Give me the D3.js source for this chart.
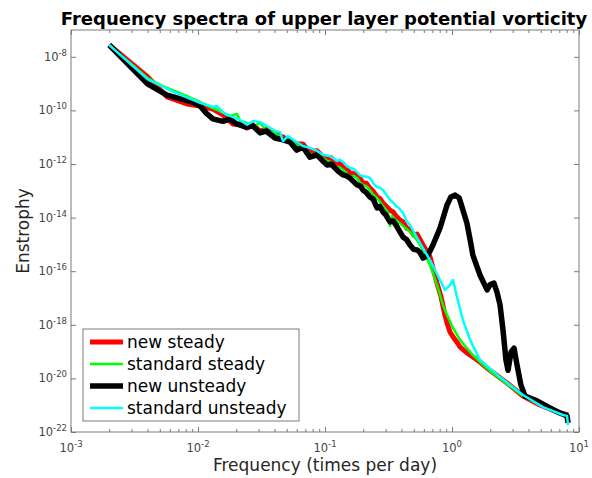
<!DOCTYPE html>
<html>
<head>
<meta charset="utf-8">
<script src="https://cdn.jsdelivr.net/npm/d3@7"></script>
<style>
body { margin: 0; background: #fff; }
text { font-family: "DejaVu Sans", sans-serif; }
</style>
</head>
<body>
<svg id="chart" width="592" height="478"></svg>
<script>
// tick values
var freqTicks = [1e-3, 1e-2, 1e-1, 1, 10];
var enstTicks = [1e-22, 1e-20, 1e-18, 1e-16, 1e-14, 1e-12, 1e-10, 1e-8];

var seriesNames = ["new steady", "standard steady", "new unsteady", "standard unsteady"];

// [frequency (per day), enstrophy]
var newSteady = [
  [2e-3, 2.75e-8], [4e-3, 1.8e-9], [5.7e-3, 3.2e-10], [8.2e-3, 1.74e-10], [1.04e-2, 1.45e-10],
  [1.31e-2, 1.12e-10], [1.57e-2, 6.8e-11], [1.89e-2, 3.1e-11], [2.14e-2, 2.9e-11], [2.43e-2, 2.2e-11],
  [2.71e-2, 2.9e-11], [3.08e-2, 1.7e-11], [3.49e-2, 2.0e-11], [4.04e-2, 1.32e-11], [4.67e-2, 1.02e-11],
  [5.3e-2, 7.2e-12], [6.0e-2, 5.6e-12], [6.7e-2, 5.6e-12], [7.6e-2, 2.8e-12], [8.65e-2, 3.1e-12],
  [0.096, 1.9e-12], [0.104, 1.55e-12], [0.112, 1.7e-12], [0.12, 1.1e-12], [0.13, 1.05e-12],
  [0.139, 7.8e-13], [0.148, 7.0e-13], [0.157, 4.6e-13], [0.168, 4.4e-13], [0.179, 3.5e-13],
  [0.189, 2.9e-13], [0.199, 1.95e-13], [0.212, 1.9e-13], [0.226, 1.26e-13], [0.24, 9.5e-14],
  [0.257, 5.9e-14], [0.27, 5.2e-14], [0.286, 3.5e-14], [0.305, 2.6e-14], [0.325, 1.9e-14],
  [0.345, 1.6e-14], [0.362, 1.15e-14], [0.385, 8.5e-15], [0.411, 6.9e-15], [0.44, 4.0e-15],
  [0.467, 3.7e-15], [0.5, 2.2e-15], [0.53, 2.45e-15], [0.591, 9.5e-16],
  [0.671, 3.4e-16], [0.762, 3.6e-17], [0.82, 1.1e-17], [0.88, 2.3e-18], [0.914, 1.17e-18],
  [0.964, 5.4e-19], [1.02, 3.5e-19], [1.09, 2.3e-19], [1.16, 1.48e-19], [1.31, 8.9e-20],
  [1.46, 6.3e-20], [1.66, 4.1e-20], [1.99, 2.0e-20], [2.71, 6.8e-21], [3.62, 2.2e-21],
  [4.93, 1.02e-21], [6.71, 5.6e-22], [8.2, 4.3e-22]
];

var standardSteady = [
  [2e-3, 2.75e-8], [4e-3, 1.62e-9], [5.3e-3, 8.1e-10], [8.2e-3, 3.4e-10], [1.31e-2, 1.23e-10],
  [1.79e-2, 6.2e-11], [2.03e-2, 7.4e-11], [2.14e-2, 4.0e-11], [2.43e-2, 3.4e-11], [2.71e-2, 2.4e-11],
  [3.08e-2, 3.4e-11], [3.49e-2, 1.7e-11], [4.04e-2, 1.45e-11], [4.67e-2, 8.5e-12], [5.3e-2, 9.3e-12],
  [6.0e-2, 4.7e-12], [6.7e-2, 5.1e-12], [7.6e-2, 2.35e-12], [8.65e-2, 2.0e-12], [0.096, 1.7e-12],
  [0.104, 1.29e-12], [0.112, 1.2e-12], [0.12, 7.1e-13], [0.13, 7.6e-13], [0.139, 6.0e-13],
  [0.148, 4.6e-13], [0.157, 3.5e-13], [0.168, 3.6e-13], [0.179, 3.0e-13], [0.189, 2.0e-13],
  [0.199, 1.66e-13], [0.212, 1.5e-13], [0.226, 1.07e-13], [0.24, 7.2e-14], [0.257, 5.4e-14],
  [0.27, 4.0e-14], [0.286, 2.7e-14], [0.313, 1.62e-14], [0.325, 4.9e-15],
  [0.337, 1.15e-14], [0.362, 8.1e-15], [0.411, 4.9e-15], [0.467, 2.9e-15], [0.53, 1.45e-15],
  [0.591, 6.2e-16], [0.671, 1.7e-16], [0.762, 3.1e-17], [0.849, 5.5e-18], [0.914, 2.3e-18],
  [1.02, 7.6e-19], [1.16, 2.7e-19], [1.31, 1.35e-19], [1.46, 7.4e-20], [1.66, 4.1e-20],
  [1.99, 1.9e-20], [2.71, 6.2e-21], [3.62, 2.2e-21], [4.93, 1.02e-21], [6.71, 5.6e-22], [8.2, 4.0e-22]
];

var newUnsteady = [
  [2e-3, 2.75e-8], [4e-3, 9.8e-10], [5.7e-3, 3.7e-10], [9.1e-3, 2.04e-10], [1.04e-2, 1.45e-10],
  [1.16e-2, 7.9e-11], [1.31e-2, 4.8e-11], [1.57e-2, 3.9e-11], [1.79e-2, 4.8e-11], [1.99e-2, 3.2e-11],
  [2.4e-2, 2.4e-11], [2.71e-2, 2.6e-11], [3.08e-2, 1.45e-11], [3.43e-2, 1.7e-11], [4.04e-2, 9.3e-12],
  [4.67e-2, 7.9e-12], [5.3e-2, 6.6e-12], [6.0e-2, 3.3e-12], [6.7e-2, 4.3e-12], [7.6e-2, 1.8e-12],
  [8.65e-2, 2.2e-12], [0.096, 1.3e-12], [0.104, 9.1e-13], [0.112, 1.0e-12], [0.12, 7.1e-13],
  [0.128, 5.2e-13], [0.139, 3.9e-13], [0.148, 3.6e-13], [0.157, 3.0e-13], [0.168, 2.2e-13],
  [0.179, 1.66e-13], [0.19, 1.5e-13], [0.199, 1.07e-13], [0.212, 8.5e-14], [0.226, 5.9e-14],
  [0.24, 4.8e-14], [0.257, 2.3e-14], [0.27, 2.6e-14], [0.286, 1.62e-14], [0.3, 1.3e-14],
  [0.325, 6.9e-15], [0.345, 7.5e-15], [0.362, 5.3e-15], [0.385, 3.2e-15], [0.411, 1.9e-15],
  [0.44, 1.5e-15], [0.467, 9.5e-16], [0.5, 6.5e-16], [0.53, 6.2e-16], [0.56, 5.0e-16],
  [0.591, 3.1e-16], [0.647, 4.0e-16], [0.708, 9.5e-16], [0.805, 4.1e-15], [0.914, 2.95e-14],
  [0.98, 5.9e-14], [1.06, 6.9e-14], [1.14, 5.4e-14], [1.22, 1.9e-14], [1.31, 6.3e-15],
  [1.39, 1.45e-15], [1.46, 4.0e-16], [1.66, 7.2e-17], [1.89, 2.0e-17], [1.99, 3.1e-17],
  [2.14, 3.6e-17], [2.26, 1.66e-17], [2.39, 5.5e-18], [2.52, 6.5e-19], [2.66, 4.9e-20],
  [2.76, 2.0e-20], [2.92, 9.8e-20], [3.08, 1.35e-19], [3.25, 3.2e-20], [3.49, 5.6e-21],
  [3.76, 2.2e-21], [4.67, 1.45e-21], [5.91, 7.9e-22], [7.08, 5.1e-22], [8.05, 4.0e-22], [8.2, 2.2e-22]
];

var standardUnsteady = [
  [2e-3, 2.75e-8], [4e-3, 1.48e-9], [6.4e-3, 4.9e-10], [1.04e-2, 1.9e-10], [1.31e-2, 1.35e-10],
  [1.41e-2, 1.45e-10], [1.57e-2, 8.7e-11], [1.69e-2, 6.8e-11], [1.89e-2, 5.6e-11], [2.14e-2, 4.4e-11],
  [2.43e-2, 2.9e-11], [2.71e-2, 4.0e-11], [3.08e-2, 3.7e-11], [3.49e-2, 2.6e-11], [4.04e-2, 1.7e-11],
  [4.42e-2, 1.55e-11], [4.67e-2, 7.2e-12], [5.1e-2, 1.1e-11], [5.8e-2, 7.2e-12], [6.7e-2, 4.7e-12],
  [7.6e-2, 4.0e-12], [8.65e-2, 3.1e-12], [9.6e-2, 2.2e-12], [0.109, 2.0e-12], [0.117, 1.6e-12],
  [0.124, 1.29e-12], [0.131, 1.45e-12], [0.139, 1.17e-12], [0.148, 8.5e-13], [0.157, 7.1e-13],
  [0.168, 6.5e-13], [0.179, 5.0e-13], [0.189, 3.8e-13], [0.199, 3.5e-13], [0.212, 3.4e-13],
  [0.226, 3.0e-13], [0.24, 1.9e-13], [0.257, 1.38e-13], [0.27, 1.3e-13], [0.286, 1.07e-13],
  [0.305, 7.0e-14], [0.325, 4.6e-14], [0.345, 3.6e-14], [0.362, 2.7e-14], [0.385, 2.2e-14],
  [0.411, 1.48e-14], [0.44, 7.5e-15], [0.467, 5.25e-15], [0.56, 1.12e-15], [0.671, 2.6e-16],
  [0.805, 4.7e-17], [0.88, 2.0e-17], [0.95, 2.8e-17], [1.02, 4.7e-17], [1.09, 1.17e-17],
  [1.22, 1.5e-18], [1.39, 2.7e-19], [1.66, 4.9e-20], [2.39, 1.12e-20], [3.62, 2.4e-21],
  [5.21, 8.5e-22], [7.48, 4.3e-22], [8.05, 4.0e-22], [8.2, 1.8e-22]
];

var seriesData = [newSteady, standardSteady, newUnsteady, standardUnsteady];
var seriesColors = ["#ff0000", "#00ff00", "#000000", "#00ffff"];
var seriesWidths = [5, 2.5, 5.5, 2.5];

var margin = {top: 30, right: 13, bottom: 46, left: 71},
    width = 592 - margin.left - margin.right,
    height = 478 - margin.top - margin.bottom;

var svg = d3.select("#chart");
var g = svg.append("g").attr("transform", "translate(" + margin.left + "," + margin.top + ")");

var x = d3.scaleLog().domain([1e-3, 10]).range([0, width]);
var y = d3.scaleLog().domain([1e-22, 1e-7]).range([height, 0]);

var axisColor = "#7a7a7a";

// minor x ticks
var minorX = [];
freqTicks.slice(0, -1).forEach(function(d) {
  for (var k = 2; k < 10; k++) minorX.push(d * k);
});

function styleAxis(sel) {
  sel.select(".domain").remove();
  sel.selectAll(".tick line").attr("stroke", axisColor);
}

g.append("g").attr("transform", "translate(0," + height + ")")
  .call(d3.axisBottom(x).tickValues(freqTicks).tickSize(-5).tickFormat(""))
  .call(styleAxis);
g.append("g").attr("transform", "translate(0," + height + ")")
  .call(d3.axisBottom(x).tickValues(minorX).tickSize(-3).tickFormat(""))
  .call(styleAxis);
g.append("g")
  .call(d3.axisTop(x).tickValues(freqTicks).tickSize(-5).tickFormat(""))
  .call(styleAxis);
g.append("g")
  .call(d3.axisTop(x).tickValues(minorX).tickSize(-3).tickFormat(""))
  .call(styleAxis);
g.append("g")
  .call(d3.axisLeft(y).tickValues(enstTicks).tickSize(-5).tickFormat(""))
  .call(styleAxis);
g.append("g").attr("transform", "translate(" + width + ",0)")
  .call(d3.axisRight(y).tickValues(enstTicks).tickSize(-5).tickFormat(""))
  .call(styleAxis);

// box
g.append("rect").attr("width", width).attr("height", height)
  .attr("fill", "none").attr("stroke", axisColor).attr("stroke-width", 1);

function expLabel(sel, v) {
  var e = Math.round(Math.log10(v));
  sel.append("tspan").text("10");
  sel.append("tspan").attr("dy", -5).attr("font-size", 8.5).text(e);
}

g.selectAll(".xlab").data(freqTicks).enter().append("text")
  .attr("class", "xlab")
  .attr("x", function(d) { return x(d); })
  .attr("y", height + 20)
  .attr("text-anchor", "middle")
  .attr("font-size", 11.5).attr("fill", "#444")
  .each(function(d) { expLabel(d3.select(this), d); });

g.selectAll(".ylab").data(enstTicks).enter().append("text")
  .attr("class", "ylab")
  .attr("x", -4)
  .attr("y", function(d) { return y(d) + 4; })
  .attr("text-anchor", "end")
  .attr("font-size", 11.5).attr("fill", "#444")
  .each(function(d) { expLabel(d3.select(this), d); });

// lines
var line = d3.line()
  .x(function(d) { return x(d[0]); })
  .y(function(d) { return y(d[1]); });

seriesData.forEach(function(s, i) {
  g.append("path").datum(s)
    .attr("d", line)
    .attr("fill", "none")
    .attr("stroke", seriesColors[i])
    .attr("stroke-width", seriesWidths[i])
    .attr("stroke-linejoin", "round");
});

// titles
svg.append("text")
  .attr("x", margin.left + width / 2 - 1).attr("y", 25)
  .attr("text-anchor", "middle")
  .attr("font-size", 18).attr("font-weight", "bold")
  .text("Frequency spectra of upper layer potential vorticity");

svg.append("text")
  .attr("x", margin.left + width / 2).attr("y", 471)
  .attr("text-anchor", "middle")
  .attr("font-size", 17).attr("fill", "#262626")
  .text("Frequency (times per day)");

svg.append("text")
  .attr("transform", "translate(29," + (margin.top + height / 2) + ") rotate(-90)")
  .attr("text-anchor", "middle")
  .attr("font-size", 17).attr("fill", "#262626")
  .text("Enstrophy");

// legend
var legend = svg.append("g").attr("transform", "translate(83,329)");
legend.append("rect").attr("width", 216).attr("height", 92)
  .attr("fill", "#fff").attr("stroke", axisColor);
seriesNames.forEach(function(name, i) {
  var ly = 13 + i * 22;
  legend.append("line")
    .attr("x1", 7).attr("x2", 40).attr("y1", ly).attr("y2", ly)
    .attr("stroke", seriesColors[i]).attr("stroke-width", seriesWidths[i]);
  legend.append("text")
    .attr("x", 44).attr("y", ly + 6)
    .attr("font-size", 17).attr("fill", "#000")
    .text(name);
});
</script>
</body>
</html>
